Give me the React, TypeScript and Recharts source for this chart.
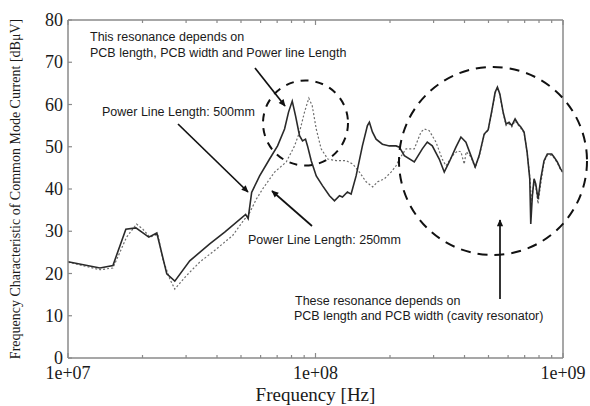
import React from 'react';
import { LineChart, Line, XAxis, YAxis } from 'recharts';

// Frequency in MHz (10 MHz = 1e+07 Hz ... 1000 MHz = 1e+09 Hz)
const freqSolid = [10, 13.46, 15.19, 17.13, 18.81, 21.21, 22.85, 25.07, 27.01, 31.04, 37.38, 42.97, 52.21, 53.44, 55.21, 59.46, 65.24, 70.27, 74.99, 77.82, 80.54, 83.06, 86.2, 88.63, 91.13, 92.84, 96.09, 100.7, 106.7, 113.9, 119.3, 125.0, 128.5, 134.6, 139.3, 145.9, 154.7, 162.1, 165.1, 169.8, 175.7, 186.3, 198.8, 211.6, 218.2, 228.5, 250.7, 270.1, 282.9, 296.4, 316.2, 331.3, 347.0, 369.3, 386.9, 405.3, 424.5, 441.8, 458.5, 480.3, 498.4, 517.2, 531.8, 543.3, 555.6, 572.9, 589.0, 605.7, 621.0, 640.4, 658.5, 675.2, 696.2, 715.9, 734.1, 740.9, 752.0, 764.0, 776.1, 792.9, 813.0, 838.3, 864.4, 900.4, 919.8, 948.5, 978.8, 1000];
const levelSolid = [22.8, 21.3, 21.9, 30.5, 30.8, 28.6, 29.6, 19.9, 18.2, 23.0, 27.0, 29.8, 34.0, 33.0, 39.2, 43.1, 47.1, 50.2, 54.2, 58.2, 60.8, 57.3, 52.6, 51.4, 51.8, 50.2, 46.7, 43.1, 40.8, 38.4, 37.2, 38.4, 38.1, 39.3, 38.8, 43.1, 50.2, 55.0, 55.8, 53.5, 51.8, 50.6, 50.2, 50.2, 49.9, 47.9, 46.4, 49.5, 51.1, 50.2, 47.1, 44.0, 46.4, 49.9, 52.3, 51.1, 47.9, 45.2, 47.9, 53.0, 54.0, 58.9, 62.9, 64.1, 62.5, 58.2, 55.4, 55.8, 55.0, 56.6, 55.4, 54.7, 53.5, 48.8, 42.4, 31.7, 38.4, 42.4, 41.2, 37.6, 42.4, 46.7, 48.3, 48.3, 47.6, 46.4, 44.7, 44.0];

const freqDotted = [10, 13.46, 15.19, 17.24, 18.92, 20.06, 21.41, 23.06, 24.16, 25.79, 27.01, 30.10, 34.06, 39.78, 46.28, 51.72, 53.18, 57.67, 61.14, 68.34, 76.19, 82.29, 86.2, 90.28, 93.97, 96.99, 100.7, 105.4, 112.1, 121.2, 133.0, 141.4, 150.5, 160.1, 170.2, 178.3, 189.7, 202.0, 211.6, 218.2, 232.1, 250.7, 266.9, 275.2, 288.2, 306.7, 325.1, 336.5, 357.8, 374.8, 386.9, 398.9, 406.4, 424.5, 441.8, 458.5, 480.3, 498.4, 517.2, 531.8, 543.3, 555.6, 572.9, 589.0, 605.7, 621.0, 640.4, 658.5, 675.2, 696.2, 715.9, 734.1, 746.4, 756.8, 767.5, 778.1, 792.9, 813.0, 838.3, 864.4, 900.4, 919.8, 948.5, 978.8, 1000];
const levelDotted = [22.7, 20.9, 21.3, 28.6, 31.7, 30.5, 28.6, 29.3, 23.4, 18.7, 16.3, 19.5, 22.7, 25.8, 29.0, 32.9, 33.4, 37.6, 40.0, 44.0, 46.4, 50.2, 53.5, 58.2, 61.5, 59.7, 54.2, 49.5, 47.1, 46.7, 46.7, 45.9, 44.0, 41.7, 40.5, 41.7, 42.4, 44.0, 45.5, 47.1, 49.5, 49.5, 53.5, 54.2, 53.8, 51.1, 47.1, 45.5, 47.9, 49.0, 48.8, 45.9, 48.8, 47.6, 45.0, 47.7, 52.8, 53.9, 58.7, 62.6, 64.0, 62.3, 58.0, 55.0, 55.4, 54.7, 56.1, 55.2, 54.4, 53.3, 48.8, 42.8, 37.0, 40.0, 41.9, 40.0, 36.5, 41.2, 46.4, 48.0, 48.0, 47.4, 46.2, 44.5, 43.8];

const yTicks = [0, 10, 20, 30, 40, 50, 60, 70, 80];
const xMajorTicks = [10, 100, 1000];
const xTickLabels = ['1e+07', '1e+08', '1e+09'];
const xMinorTicks = [20, 30, 40, 50, 60, 70, 80, 90, 200, 300, 400, 500, 600, 700, 800, 900];
const allXTicks = [...xMajorTicks, ...xMinorTicks].sort((a, b) => a - b);

const solidData = freqSolid.map((f, i) => ({ f, v: levelSolid[i] }));
const dottedData = freqDotted.map((f, i) => ({ f, v: levelDotted[i] }));

const SERIF = "'Liberation Serif', 'Times New Roman', serif";
const SANS = "'Liberation Sans', Arial, sans-serif";
const FRAME = '#8a8a8a';
const TXT = '#1a1a1a';

const BottomTick = (props: any) => {
  const { x, y, payload } = props;
  const i = xMajorTicks.indexOf(payload.value);
  const len = i >= 0 ? 5 : 3;
  return (
    <g>
      <line x1={x} y1={y} x2={x} y2={y - len} stroke={FRAME} strokeWidth={1.2} />
      {i >= 0 && (
        <text x={x} y={y + 21} textAnchor="middle" fontFamily={SERIF} fontSize={18} fill={TXT}>
          {xTickLabels[i]}
        </text>
      )}
    </g>
  );
};

const TopTick = (props: any) => {
  const { x, y, payload } = props;
  const len = xMajorTicks.indexOf(payload.value) >= 0 ? 5 : 3;
  return <line x1={x} y1={y} x2={x} y2={y + len} stroke={FRAME} strokeWidth={1.2} />;
};

const LeftTick = (props: any) => {
  const { x, y, payload } = props;
  return (
    <g>
      <line x1={x} y1={y} x2={x + 4} y2={y} stroke={FRAME} strokeWidth={1.2} />
      <text x={x - 5} y={y} dy="0.34em" textAnchor="end" fontFamily={SERIF} fontSize={18} fill={TXT}>
        {payload.value}
      </text>
    </g>
  );
};

const RightTick = (props: any) => {
  const { x, y } = props;
  return <line x1={x} y1={y} x2={x - 4} y2={y} stroke={FRAME} strokeWidth={1.2} />;
};

const Annotations = () => (
  <svg
    width={590}
    height={406}
    style={{ position: 'absolute', left: 0, top: 0, pointerEvents: 'none' }}
  >
    <defs>
      <marker id="ah" viewBox="0 0 10 10" refX="9" refY="5" markerWidth="8" markerHeight="7" markerUnits="userSpaceOnUse" orient="auto">
        <path d="M0,0.5 L10,5 L0,9.5 z" fill="#111" />
      </marker>
    </defs>
    <g fontFamily={SANS} fontSize={12.5} fill={TXT}>
      <text x={90} y={41}>This resonance depends on</text>
      <text x={90} y={57}>PCB length, PCB width and Power line Length</text>
      <text x={102} y={116}>Power Line Length: 500mm</text>
      <text x={248} y={244}>Power Line Length: 250mm</text>
      <text x={295} y={305}>These resonance depends on</text>
      <text x={294} y={320}>PCB length and PCB width (cavity resonator)</text>
    </g>
    <g stroke="#111" strokeWidth={1.7} fill="none">
      <line x1={255} y1={68} x2={285} y2={106} markerEnd="url(#ah)" />
      <line x1={178} y1={124} x2={248} y2={192} markerEnd="url(#ah)" />
      <line x1={312} y1={226} x2={272} y2={191} markerEnd="url(#ah)" />
      <line x1={500} y1={299} x2={500} y2={220} markerEnd="url(#ah)" />
    </g>
    <g stroke="#111" strokeWidth={2} fill="none">
      <circle cx={305.5} cy={123} r={42.5} strokeDasharray="8 7" />
      <circle cx={493} cy={161} r={94} strokeDasharray="10 7" />
    </g>
  </svg>
);

export default function App() {
  return (
    <div style={{ position: 'absolute', left: 0, top: 0, width: 590, height: 406, background: '#fff' }}>
      <LineChart width={590} height={406} margin={{ top: 0, right: 0, bottom: 0, left: 0 }}>
        <XAxis
          dataKey="f"
          type="number"
          scale="log"
          domain={[10, 1000]}
          allowDataOverflow
          ticks={allXTicks}
          interval={0}
          tick={<BottomTick />}
          tickLine={false}
          tickSize={0}
          tickMargin={0}
          height={48}
          axisLine={{ stroke: FRAME, strokeWidth: 1.5 }}
          label={{
            value: 'Frequency [Hz]',
            position: 'insideBottom',
            offset: 5,
            style: { fontFamily: SERIF, fontSize: 19, fill: TXT },
          }}
        />
        <XAxis
          xAxisId="top"
          orientation="top"
          dataKey="f"
          type="number"
          scale="log"
          domain={[10, 1000]}
          allowDataOverflow
          ticks={allXTicks}
          interval={0}
          tick={<TopTick />}
          tickLine={false}
          tickSize={0}
          tickMargin={0}
          height={20}
          axisLine={{ stroke: FRAME, strokeWidth: 1.5 }}
        />
        <YAxis
          type="number"
          domain={[0, 80]}
          ticks={yTicks}
          interval={0}
          tick={<LeftTick />}
          tickLine={false}
          tickSize={0}
          tickMargin={0}
          width={68}
          axisLine={{ stroke: FRAME, strokeWidth: 1.5 }}
          label={{
            value: 'Frequency Characteristic of Common Mode Current [dB\u03bcV]',
            angle: -90,
            position: 'insideLeft',
            offset: 15,
            style: { textAnchor: 'middle', fontFamily: SERIF, fontSize: 14, fill: TXT },
          }}
        />
        <YAxis
          yAxisId="right"
          orientation="right"
          type="number"
          domain={[0, 80]}
          ticks={yTicks}
          interval={0}
          tick={<RightTick />}
          tickLine={false}
          tickSize={0}
          tickMargin={0}
          width={27}
          axisLine={{ stroke: FRAME, strokeWidth: 1.5 }}
        />
        <Line
          data={dottedData}
          dataKey="v"
          type="linear"
          stroke="#6e6e6e"
          strokeWidth={1.2}
          strokeDasharray="2 2"
          dot={false}
          activeDot={false}
          isAnimationActive={false}
        />
        <Line
          data={solidData}
          dataKey="v"
          type="linear"
          stroke="#2a2a2a"
          strokeWidth={1.6}
          dot={false}
          activeDot={false}
          isAnimationActive={false}
        />
      </LineChart>
      <Annotations />
    </div>
  );
}
